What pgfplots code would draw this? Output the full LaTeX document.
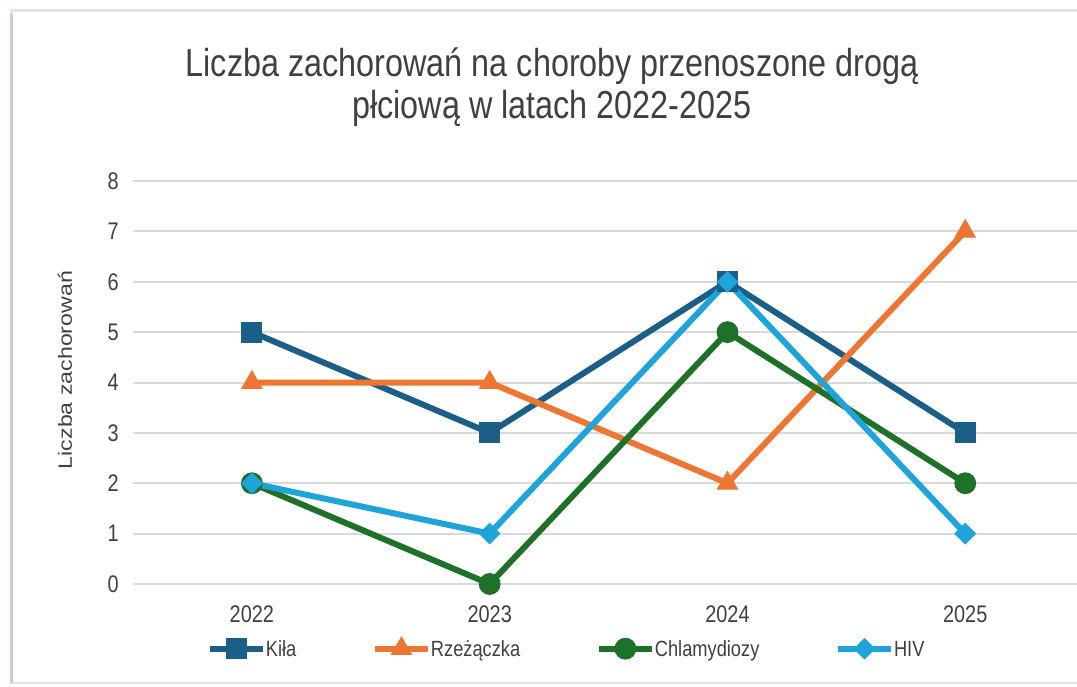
\documentclass[border=0pt]{standalone}
\usepackage{fontspec}
\setmainfont{Liberation Sans}[FakeStretch=0.83]
\newfontfamily\ylabfont{Liberation Sans}[FakeStretch=1.205]
\usepackage{pgfplots}
\pgfplotsset{compat=1.18}
\definecolor{kila}{HTML}{1B5E87}
\definecolor{rzez}{HTML}{EE7633}
\definecolor{chla}{HTML}{1E7128}
\definecolor{hiv}{HTML}{1FA3DB}
\definecolor{txt}{HTML}{404040}
\definecolor{grid}{HTML}{D9D9D9}
\begin{document}
\begin{tikzpicture}
\path[use as bounding box] (0,0) rectangle (538.5pt,343pt);
\fill[white] (0,0) rectangle (538.5pt,343pt);
\draw[line width=1.3pt, color=gray!22] (5.6pt,1.6pt) rectangle (548pt,337.6pt);
\draw[line width=1.3pt, color={rgb,255:red,190;green,215;blue,190}] (5.6pt,1.6pt) -- (5.6pt,336pt);
\node[anchor=base, font=\fontsize{19.5}{21}\selectfont, text=txt] at (276pt,304.5pt) {Liczba zachorowań na choroby przenoszone drogą};
\node[anchor=base, font=\fontsize{19.5}{21}\selectfont, text=txt] at (276pt,283.5pt) {płciową w latach 2022-2025};
\node[rotate=90, font=\ylabfont\fontsize{9.6}{11}\selectfont, text=txt] at (32.5pt,158pt) {Liczba zachorowań};
\begin{axis}[
  at={(66.5pt,51pt)}, anchor=south west,
  scale only axis, width=472pt, height=201.5pt,
  xmin=-0.5, xmax=3.47, ymin=0, ymax=8,
  axis line style={draw=none},
  xtick={0,1,2,3}, xticklabels={2022,2023,2024,2025},
  ytick={0,1,...,8},
  major tick length=0pt,
  ymajorgrids, grid style={color=grid, line width=1pt},
  /pgf/number format/assume math mode=true,
  tick label style={font=\fontsize{12}{14}\selectfont, text=txt},
  yticklabel style={anchor=east, inner sep=0pt, xshift=-7pt},
  xticklabel style={anchor=north, inner sep=0pt, yshift=-10.5pt},
  clip=false,
  legend columns=4,
  legend style={at={(0.0779,-0.159)}, anchor=west, draw=none, fill=none,
    inner sep=0pt, font=\fontsize{11}{13}\selectfont, text=txt,
    nodes={inner sep=0pt, text depth=0pt},
    /tikz/every odd column/.append style={column sep=0pt},
    /tikz/every even column/.append style={column sep=37.8pt}},
  legend cell align=left,
  legend image code/.code={\draw[mark repeat=2,mark phase=2] plot coordinates {(0pt,0pt)(13.25pt,0pt)(26.5pt,0pt)};},
  every axis plot/.append style={line width=3pt},
]
\addplot[color=kila, mark=square*, mark size=5pt, mark options={line width=0.5pt}] coordinates {(0,5) (1,3) (2,6) (3,3)};
\addlegendentry{Kiła}
\addplot[color=rzez, mark=triangle*, mark size=5.8pt, mark options={line width=0.5pt}] coordinates {(0,4) (1,4) (2,2) (3,7)};
\addlegendentry{Rzeżączka}
\addplot[color=chla, mark=*, mark size=5.2pt, mark options={line width=0.5pt}] coordinates {(0,2) (1,0) (2,5) (3,2)};
\addlegendentry{Chlamydiozy}
\addplot[color=hiv, mark=square*, mark size=3.6pt, mark options={rotate=45, line width=0.5pt}] coordinates {(0,2) (1,1) (2,6) (3,1)};
\addlegendentry{HIV}
\end{axis}
\end{tikzpicture}
\end{document}
